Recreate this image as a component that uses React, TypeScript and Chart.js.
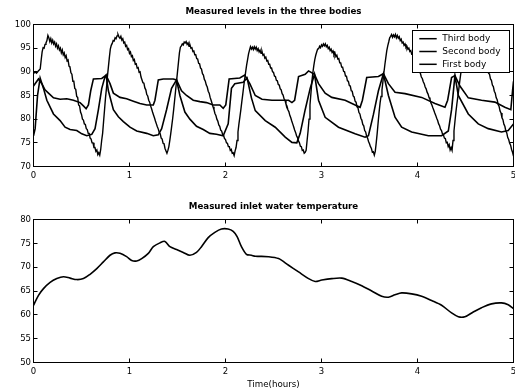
import React, { useEffect, useRef } from "react";
import { Chart, registerables } from "chart.js";

Chart.register(...registerables);

// ---------------- data ----------------
const timeTicks = [0, 1, 2, 3, 4, 5];
const levelTicks = [70, 75, 80, 85, 90, 95, 100];
const tempTicks = [50, 55, 60, 65, 70, 75, 80];

const seriesLabels = ["Third body", "Second body", "First body"];

// large sawtooth series, one reading every 0.01 hours from t = 0
const firstBodyStep = 0.01;
const firstBodyLevel = [
  89.7, 89.8, 90.0, 89.7, 89.9, 90.2, 90.4, 90.6, 92.5, 94.2,
  95.1, 95.0, 95.8, 96.1, 96.6, 97.7, 97.2, 96.4, 97.0, 96.1,
  96.7, 95.9, 96.3, 95.4, 95.9, 95.0, 95.5, 94.6, 95.0, 94.0,
  94.6, 93.6, 94.0, 93.0, 93.4, 92.3, 92.5, 91.2, 91.0, 89.8,
  89.5, 88.0, 88.0, 86.5, 86.3, 84.8, 84.6, 83.0, 82.8, 81.5,
  81.0, 80.0, 79.8, 79.0, 78.9, 78.0, 77.8, 77.0, 77.0, 76.0,
  75.8, 75.0, 75.0, 74.0, 74.0, 73.2, 73.5, 72.5, 72.9, 72.4,
  73.6, 75.5, 77.0, 79.5, 82.0, 84.5, 86.5, 89.0, 91.0, 93.0,
  94.8, 95.6, 96.0, 96.6, 96.5, 97.2, 97.0, 97.6, 97.9, 97.4,
  97.1, 97.5, 96.7, 97.0, 96.1, 96.3, 95.4, 95.6, 94.7, 94.9,
  93.9, 94.2, 93.2, 93.4, 92.4, 92.6, 91.6, 91.7, 90.8, 90.9,
  89.9, 90.0, 88.9, 88.9, 87.7, 87.6, 86.6, 86.2, 85.2, 84.9,
  84.0, 83.6, 82.8, 82.2, 81.5, 80.9, 80.3, 79.6, 79.0, 78.4,
  77.9, 77.2, 76.9, 76.0, 75.8, 74.9, 74.8, 73.8, 73.8, 72.8,
  73.4, 74.2, 75.5, 77.0, 78.6, 80.2, 82.0, 84.0, 86.0, 88.0,
  90.0, 92.0, 94.0, 95.2, 95.5, 95.9, 95.7, 96.3, 96.1, 96.4,
  95.8, 96.1, 95.4, 95.7, 95.0, 95.1, 94.3, 94.4, 93.6, 93.6,
  92.8, 92.7, 91.8, 91.7, 90.8, 90.6, 89.6, 89.3, 88.4, 88.0,
  87.2, 86.8, 85.9, 85.5, 84.6, 84.0, 83.3, 82.6, 82.0, 81.2,
  80.8, 80.0, 79.6, 78.8, 78.5, 77.7, 77.5, 76.8, 76.6, 75.9,
  75.7, 75.0, 74.9, 74.2, 74.2, 73.4, 73.6, 72.8, 72.9, 72.3,
  73.3, 74.0, 75.5, 77.3, 79.0, 80.5, 82.0, 83.7, 85.3, 87.0,
  88.5, 90.0, 91.4, 92.6, 93.8, 94.6, 95.3, 94.8, 95.2, 94.7,
  95.3, 94.8, 95.2, 94.5, 94.9, 94.2, 94.6, 93.9, 94.3, 93.5,
  93.7, 92.9, 93.1, 92.3, 92.4, 91.6, 91.6, 90.8, 90.8, 90.0,
  89.9, 89.1, 89.0, 88.2, 88.1, 87.3, 87.2, 86.4, 86.2, 85.4,
  85.1, 84.3, 84.0, 83.2, 82.8, 82.0, 81.6, 80.8, 80.3, 79.6,
  79.0, 78.4, 77.7, 77.2, 76.5, 76.1, 75.4, 75.0, 74.3, 74.2,
  73.4, 73.5, 72.8, 73.0, 73.4, 75.5, 77.5, 80.0, 83.0, 85.5,
  88.0, 89.8, 91.3, 92.6, 93.5, 94.2, 94.8, 94.9, 95.4, 95.1,
  95.7, 95.4, 95.9, 95.5, 95.9, 95.3, 95.6, 94.9, 95.2, 94.5,
  94.8, 94.1, 94.4, 93.6, 94.0, 93.2, 93.5, 92.7, 92.8, 91.9,
  91.9, 91.0, 91.0, 90.1, 90.0, 89.1, 89.1, 88.1, 88.0, 87.1,
  87.0, 86.0, 85.9, 84.9, 84.7, 83.8, 83.6, 82.6, 82.4, 81.4,
  81.1, 80.2, 79.8, 78.9, 78.6, 77.6, 77.3, 76.4, 76.0, 75.3,
  74.8, 74.2, 73.8, 73.0, 73.1, 72.4, 73.2, 75.0, 77.0, 79.3,
  81.5, 83.4, 84.8, 86.2, 88.0, 89.8, 91.5, 93.0, 94.5, 95.5,
  96.3, 97.2, 97.5, 97.9, 97.3, 97.8, 97.4, 97.9, 97.2, 97.7,
  97.1, 97.4, 96.6, 96.9, 96.1, 96.3, 95.6, 95.9, 95.2, 95.4,
  94.8, 95.0, 94.3, 94.5, 93.7, 93.7, 92.9, 92.8, 92.0, 91.8,
  91.0, 90.8, 90.0, 89.7, 88.9, 88.6, 87.9, 87.5, 86.8, 86.4,
  85.7, 85.3, 84.6, 84.2, 83.4, 83.0, 82.4, 81.9, 81.3, 80.8,
  80.2, 79.7, 79.0, 78.6, 77.9, 77.6, 76.9, 76.7, 76.0, 75.9,
  75.0, 75.1, 74.2, 74.6, 73.5, 74.0, 73.4, 75.5, 77.5, 79.5,
  81.5, 83.2, 84.7, 86.3, 88.0, 89.5, 90.8, 92.0, 93.0, 94.0,
  95.0, 95.8, 96.4, 96.9, 97.2, 97.3, 97.0, 97.4, 97.1, 97.2,
  96.8, 96.9, 96.4, 96.5, 96.0, 95.8, 95.3, 94.9, 94.2, 93.6,
  92.8, 92.0, 91.3, 90.6, 89.7, 89.5, 88.5, 88.2, 87.2, 86.9,
  85.9, 85.5, 84.5, 84.1, 83.1, 82.7, 81.7, 81.3, 80.3, 79.9,
  78.9, 78.5, 77.5, 77.1, 76.1, 75.7, 74.9, 74.5, 73.6, 73.0,
  72.2,
];

// upper medium series (plateau ~88.5, decays to ~83)
const secondBodyTime = [
  0, 0.052, 0.087, 0.12, 0.156, 0.208, 0.277, 0.347, 0.416, 0.485, 0.52, 0.548, 0.572, 0.596, 0.624, 0.711, 0.756,
  0.797, 0.832, 0.901, 0.97, 1.04, 1.109, 1.179, 1.248, 1.265, 1.3, 1.352, 1.456, 1.49, 1.542, 1.594, 1.664, 1.733,
  1.802, 1.872, 1.941, 1.976, 2.003, 2.038, 2.149, 2.2, 2.253, 2.31, 2.38, 2.484, 2.588, 2.657, 2.692, 2.72, 2.761,
  2.83, 2.865, 2.927, 2.969, 3.038, 3.107, 3.246, 3.35, 3.402, 3.426, 3.471, 3.593, 3.645, 3.697, 3.766, 3.87, 4.043,
  4.182, 4.286, 4.314, 4.355, 4.39, 4.442, 4.529, 4.667, 4.806, 4.91, 4.972, 4.99, 5.0,
];
const secondBodyLevel = [
  87, 88.5, 87.5, 86.2, 85.5, 84.5, 84.2, 84.3, 84, 83.5, 82.8, 82.2, 83, 86, 88.5, 88.6, 89.3,
  87.5, 85.5, 84.6, 84.3, 83.8, 83.3, 83, 83, 84, 88.3, 88.5, 88.5, 88.3, 86, 85, 84, 83.7,
  83.5, 83, 83, 82.3, 83, 88.5, 88.7, 89.3, 87.5, 85, 84.2, 84, 84, 84, 83.5, 84, 89,
  89.5, 90.2, 89.5, 87.5, 85.5, 84.6, 84, 83, 82.5, 84, 88.8, 89, 89.6, 87.5, 85.7, 85.4, 84.6,
  83.3, 82.5, 84, 88.8, 89.2, 87, 84.5, 84, 83.6, 82.5, 82, 86, 88,
];

// lower medium series (decays to ~76.5)
const thirdBodyTime = [
  0, 0.017, 0.042, 0.069, 0.104, 0.139, 0.208, 0.277, 0.329, 0.381, 0.451, 0.503, 0.555, 0.607, 0.641, 0.676, 0.711,
  0.745, 0.756, 0.78, 0.832, 0.884, 0.936, 1.005, 1.075, 1.179, 1.248, 1.3, 1.335, 1.386, 1.438, 1.49, 1.525, 1.577,
  1.629, 1.698, 1.768, 1.837, 1.906, 1.976, 2.028, 2.062, 2.097, 2.184, 2.225, 2.27, 2.31, 2.414, 2.518, 2.622, 2.692,
  2.743, 2.778, 2.83, 2.882, 2.927, 2.969, 3.038, 3.177, 3.35, 3.454, 3.489, 3.541, 3.593, 3.645, 3.697, 3.766, 3.835,
  3.939, 4.113, 4.251, 4.321, 4.355, 4.39, 4.425, 4.529, 4.633, 4.737, 4.875, 4.945, 5.0,
];
const thirdBodyLevel = [
  76.5, 78, 85, 88.7, 86.5, 84, 81.1, 79.7, 78.3, 77.8, 77.6, 76.9, 76.5, 76.8, 78, 82, 86.5,
  89, 89.3, 86, 82, 80.5, 79.5, 78.3, 77.5, 77, 76.5, 76.7, 78, 82, 86.5, 88.3, 85, 81.5,
  80, 78.5, 77.8, 77, 76.8, 76.5, 79, 86.5, 87.5, 87.8, 88.7, 84.5, 81.8, 79.7, 78.3, 76.2, 75.1,
  75, 77, 82, 86.5, 89.5, 84, 80.4, 78.3, 76.9, 76.2, 76.5, 81, 86, 89.6, 85, 80.4, 78.3,
  77.3, 76.5, 76.5, 77.5, 82, 89.2, 85, 81.1, 79, 78, 77.3, 77.6, 79,
];

// inlet water temperature
const inletTime = [
  0, 0.052, 0.104, 0.173, 0.243, 0.312, 0.381, 0.451, 0.52, 0.589, 0.659, 0.728, 0.797, 0.849, 0.901, 0.97, 1.023,
  1.075, 1.127, 1.196, 1.248, 1.317, 1.369, 1.421, 1.49, 1.56, 1.629, 1.698, 1.75, 1.82, 1.889, 1.958, 2.027, 2.08,
  2.121, 2.166, 2.218, 2.27, 2.31, 2.449, 2.553, 2.657, 2.761, 2.865, 2.934, 3.003, 3.107, 3.211, 3.315, 3.419, 3.523,
  3.627, 3.697, 3.766, 3.835, 3.939, 4.043, 4.147, 4.251, 4.355, 4.425, 4.494, 4.581, 4.667, 4.771, 4.875, 4.945, 5.0,
];
const inletTemp = [
  62, 64.1, 65.5, 66.8, 67.6, 68, 67.7, 67.4, 67.6, 68.5, 69.7, 71.1, 72.5, 73, 72.9, 72.2, 71.4,
  71.3, 71.8, 72.9, 74.3, 75.1, 75.4, 74.3, 73.7, 73.1, 72.5, 73.1, 74.3, 76.2, 77.3, 78, 78, 77.5,
  76.4, 74.3, 72.7, 72.5, 72.3, 72.2, 71.8, 70.4, 69, 67.6, 67, 67.3, 67.6, 67.7, 67, 66.1, 65,
  63.9, 63.7, 64.2, 64.6, 64.4, 63.9, 63, 62, 60.4, 59.6, 59.6, 60.6, 61.5, 62.3, 62.5, 62.1, 61.3,
];

// ---------------- helpers ----------------
const FONT = "'DejaVu Sans', sans-serif";

const toPoints = (xs: number[], ys: number[]) => xs.map((x, i) => ({ x, y: ys[i] }));
const stepPoints = (step: number, ys: number[]) => ys.map((y, i) => ({ x: Math.round(i * step * 1000) / 1000, y }));

const frameTicks = {
  id: "frameTicks",
  afterDatasetsDraw(chart: any) {
    const { ctx, chartArea: a, scales } = chart;
    const len = 4;
    ctx.save();
    ctx.strokeStyle = "#000";
    ctx.lineWidth = 1;
    ctx.beginPath();
    scales.x.ticks.forEach((t: any) => {
      const px = Math.round(scales.x.getPixelForValue(t.value) - 0.5) + 0.5;
      ctx.moveTo(px, a.bottom);
      ctx.lineTo(px, a.bottom - len);
      ctx.moveTo(px, a.top);
      ctx.lineTo(px, a.top + len);
    });
    scales.y.ticks.forEach((t: any) => {
      const py = Math.round(scales.y.getPixelForValue(t.value) - 0.5) + 0.5;
      ctx.moveTo(a.left, py);
      ctx.lineTo(a.left + len, py);
      ctx.moveTo(a.right, py);
      ctx.lineTo(a.right - len, py);
    });
    ctx.stroke();
    ctx.strokeRect(a.left, a.top, a.right - a.left, a.bottom - a.top);
    ctx.restore();
  },
};

const boxLegend = {
  id: "boxLegend",
  afterDraw(chart: any) {
    const opts = chart.options.plugins.boxLegend;
    if (!opts || !opts.show) return;
    const { ctx, chartArea: a } = chart;
    const w = 97;
    const h = 42;
    const left = Math.round(a.right - 4 - w) - 0.5;
    const top = Math.round(a.top + 5) + 0.5;
    ctx.save();
    ctx.fillStyle = "#fff";
    ctx.fillRect(left, top, w, h);
    ctx.strokeStyle = "#000";
    ctx.lineWidth = 1;
    ctx.strokeRect(left, top, w, h);
    ctx.font = `9px ${FONT}`;
    ctx.textBaseline = "middle";
    ctx.textAlign = "left";
    ctx.fillStyle = "#000";
    chart.data.datasets.forEach((ds: any, i: number) => {
      const y = top + 8.2 + i * 12.8;
      ctx.beginPath();
      ctx.lineWidth = 1.5;
      ctx.strokeStyle = ds.borderColor;
      ctx.moveTo(left + 6.8, y);
      ctx.lineTo(left + 24.2, y);
      ctx.stroke();
      ctx.fillText(ds.label, left + 29.8, y);
    });
    ctx.restore();
  },
};

function makeConfig(
  title: string,
  datasets: any[],
  yTicks: number[],
  xAxisTitle: string | null,
  xAxisHeight: number,
  showLegend: boolean
): any {
  return {
    type: "line",
    data: { datasets },
    options: {
      animation: false,
      responsive: false,
      layout: { autoPadding: false, padding: { left: 0, right: 1.5, top: 0, bottom: 0 } },
      elements: { point: { radius: 0 }, line: { tension: 0 } },
      plugins: {
        legend: { display: false },
        tooltip: { enabled: false },
        title: {
          display: true,
          text: title,
          fullSize: false,
          color: "#000",
          font: { family: FONT, size: 8.7, weight: "bold", lineHeight: 1.2 },
          padding: { top: 7, bottom: 24.5 - 7 - 8.7 * 1.2 },
        },
        boxLegend: { show: showLegend },
      },
      scales: {
        x: {
          type: "linear",
          min: timeTicks[0],
          max: timeTicks[timeTicks.length - 1],
          afterBuildTicks: (s: any) => {
            s.ticks = timeTicks.map((v) => ({ value: v }));
          },
          afterFit: (s: any) => {
            s.height = xAxisHeight;
            s.paddingLeft = 0;
            s.paddingRight = 0;
          },
          grid: { display: false, drawTicks: false },
          border: { display: false },
          ticks: {
            color: "#000",
            padding: 4,
            maxRotation: 0,
            font: { family: FONT, size: 8.5 },
            callback: (v: any) => String(v),
          },
          title: {
            display: !!xAxisTitle,
            text: xAxisTitle || "",
            color: "#000",
            font: { family: FONT, size: 8.7 },
            padding: { top: 0, bottom: 2 },
          },
        },
        y: {
          type: "linear",
          min: yTicks[0],
          max: yTicks[yTicks.length - 1],
          afterBuildTicks: (s: any) => {
            s.ticks = yTicks.map((v) => ({ value: v }));
          },
          afterFit: (s: any) => {
            s.width = 33.5;
          },
          grid: { display: false, drawTicks: false },
          border: { display: false },
          ticks: {
            color: "#000",
            padding: 2.5,
            font: { family: FONT, size: 8.5 },
            callback: (v: any) => String(v),
          },
        },
      },
    },
    plugins: [frameTicks, boxLegend],
  };
}

const lineStyle = { borderColor: "#000", borderWidth: 1.6, pointRadius: 0, fill: false };

export default function App() {
  const topRef = useRef<HTMLCanvasElement>(null);
  const bottomRef = useRef<HTMLCanvasElement>(null);

  useEffect(() => {
    const top = new Chart(
      topRef.current as HTMLCanvasElement,
      makeConfig(
        "Measured levels in the three bodies",
        [
          { label: seriesLabels[0], data: toPoints(thirdBodyTime, thirdBodyLevel), ...lineStyle },
          { label: seriesLabels[1], data: toPoints(secondBodyTime, secondBodyLevel), ...lineStyle },
          { label: seriesLabels[2], data: stepPoints(firstBodyStep, firstBodyLevel), ...lineStyle, borderWidth: 1.4 },
        ],
        levelTicks,
        null,
        185 - 166.5,
        true
      )
    );
    const bottom = new Chart(
      bottomRef.current as HTMLCanvasElement,
      makeConfig(
        "Measured inlet water temperature",
        [{ label: "Inlet water temperature", data: toPoints(inletTime, inletTemp), ...lineStyle, tension: 0.3 }],
        tempTicks,
        "Time(hours)",
        197 - 167.5,
        false
      )
    );
    return () => {
      top.destroy();
      bottom.destroy();
    };
  }, []);

  return (
    <div style={{ position: "absolute", left: 0, top: 0, width: 515, height: 392, background: "#fff" }}>
      <canvas ref={topRef} width={515} height={185} style={{ position: "absolute", left: 0, top: 0 }} />
      <canvas ref={bottomRef} width={515} height={197} style={{ position: "absolute", left: 0, top: 195 }} />
    </div>
  );
}
